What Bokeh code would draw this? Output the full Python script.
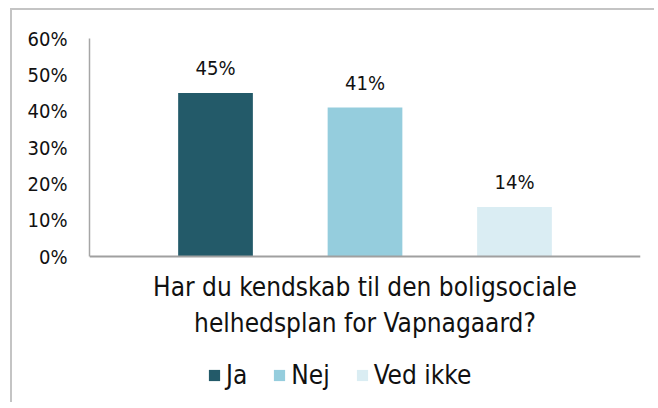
from bokeh.plotting import figure
from bokeh.models import (FactorRange, Range1d, NumeralTickFormatter, FixedTicker,
                          Legend, LegendItem, ColumnDataSource)
from bokeh.transform import dodge
from bokeh.core.properties import value
from bokeh.embed import file_html
from bokeh.resources import INLINE

# ---- data ----
question = "Har du kendskab til den boligsociale\nhelhedsplan for Vapnagaard?"
series = ["Ja", "Nej", "Ved ikke"]
values = [0.45, 0.41, 0.136]
value_labels = ["45%", "41%", "14%"]
y_ticks = [0.0, 0.1, 0.2, 0.3, 0.4, 0.5, 0.6]

# ---- style / layout ----
colors = ["#235A69", "#95CDDD", "#DAEDF3"]
offsets = [-0.2713, 0.0, 0.2713]
bar_width = 0.1356
FONT = "DejaVu Sans Condensed, DejaVu Sans"
TEXT = "#111111"
Y_MAX = 0.6
Y_MIN = -0.3963   # extra room below the axis for the category label and legend

p = figure(x_range=FactorRange(factors=[question], range_padding=0),
           y_range=Range1d(Y_MIN, Y_MAX),
           width=644, height=394,
           output_backend="svg", toolbar_location=None,
           min_border_left=77, min_border_right=16,
           min_border_top=28, min_border_bottom=4)
p.styles = {"margin-left": "10px", "margin-top": "8px",
            "border-top": "2px solid #C4C4C4", "border-left": "2px solid #C4C4C4"}
p.outline_line_color = None
p.xgrid.grid_line_color = None
p.ygrid.grid_line_color = None
p.background_fill_color = "white"
p.border_fill_color = "white"

items = []
for i, s in enumerate(series):
    src = ColumnDataSource(dict(x=[question], top=[values[i]], label=[value_labels[i]]))
    r = p.vbar(x=dodge("x", offsets[i], range=p.x_range), top="top", bottom=0,
               width=bar_width, fill_color=colors[i], line_color=None, source=src)
    p.text(x=dodge("x", offsets[i], range=p.x_range), y="top", text="label", source=src,
           text_align="center", text_baseline="alphabetic", y_offset=-25,
           text_font=value(FONT), text_font_size="20px", text_color=TEXT)
    items.append(LegendItem(label=s, renderers=[r]))

ya = p.yaxis[0]
ya.ticker = FixedTicker(ticks=y_ticks)
ya.bounds = (0, Y_MAX)
ya.formatter = NumeralTickFormatter(format="0%")
ya.major_tick_line_color = None
ya.minor_tick_line_color = None
ya.major_tick_out = 0
ya.major_tick_in = 0
ya.axis_line_color = "#A6A6A6"
ya.axis_line_width = 1.5
ya.major_label_text_font = FONT
ya.major_label_text_font_size = "20px"
ya.major_label_text_color = TEXT
ya.major_label_standoff = 22

xa = p.xaxis[0]
xa.fixed_location = 0
xa.major_tick_line_color = None
xa.minor_tick_line_color = None
xa.major_tick_out = 0
xa.major_tick_in = 0
xa.axis_line_color = "#A0A0A0"
xa.axis_line_width = 2
xa.major_label_text_font = FONT
xa.major_label_text_font_size = "26px"
xa.major_label_text_color = TEXT
xa.major_label_standoff = 15

legend = Legend(items=items, orientation="horizontal", location=(118, 10),
                padding=0, margin=0, spacing=25, label_standoff=5,
                glyph_width=14, glyph_height=14, label_height=14,
                label_text_font=FONT, label_text_font_size="26px",
                label_text_color=TEXT, border_line_color=None,
                background_fill_alpha=0)
p.add_layout(legend, "center")

open("out.html", "w").write(file_html(p, INLINE))
